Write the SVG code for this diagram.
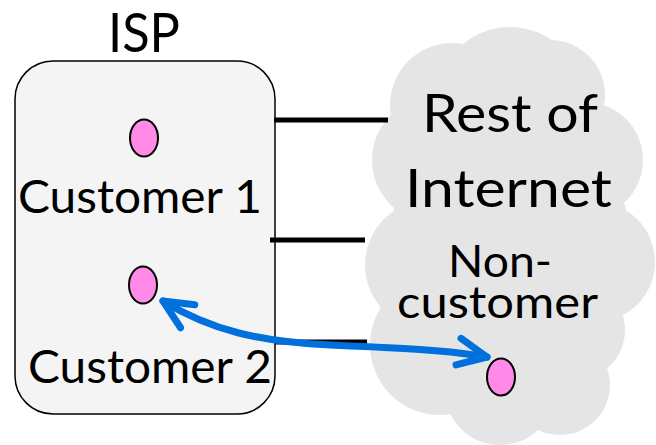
<svg xmlns="http://www.w3.org/2000/svg" width="656" height="445" viewBox="0 0 656 445">
<style>
.t{font-family:Lato,"Open Sans","Liberation Sans",sans-serif;fill:#000;text-anchor:middle}
.dot{fill:#ff8ae8;stroke:#000;stroke-width:2}
.link{stroke:#000;stroke-width:5;fill:none}
.cloud circle{fill:#e5e5e5}
</style>
<defs>
<marker id="chev" markerUnits="userSpaceOnUse" orient="auto-start-reverse" refX="0" refY="0" markerWidth="60" markerHeight="60" style="overflow:visible">
<path d="M-29,-13.5 L0,0 L-29,13.5" fill="none" stroke="#0070dd" stroke-width="7" stroke-linecap="round" stroke-linejoin="round"/>
</marker>
</defs>
<g id="internet">
<g class="cloud">
<circle cx="510" cy="240" r="120"/>
<circle cx="452" cy="105" r="62"/>
<circle cx="510" cy="100" r="73"/>
<circle cx="550" cy="95" r="55"/>
<circle cx="585" cy="160" r="58"/>
<circle cx="595" cy="262" r="60"/>
<circle cx="575" cy="330" r="50"/>
<circle cx="560" cy="385" r="50"/>
<circle cx="500" cy="390" r="55"/>
<circle cx="440" cy="345" r="70"/>
<circle cx="430" cy="265" r="65"/>
<circle cx="435" cy="160" r="63"/>
</g>
<text class="t" x="510" y="132" font-size="52" textLength="176" lengthAdjust="spacingAndGlyphs">Rest of</text>
<text class="t" x="508.5" y="207" font-size="52" textLength="207" lengthAdjust="spacingAndGlyphs">Internet</text>
</g>
<g id="isp">
<text class="t" x="144" y="52" font-size="55" textLength="72" lengthAdjust="spacingAndGlyphs">ISP</text>
<rect x="15" y="61" width="260" height="353" rx="38" ry="38" fill="#f4f4f4" stroke="#000" stroke-width="1.5"/>
</g>
<g id="customer1">
<ellipse class="dot" cx="144" cy="138" rx="14" ry="18.5"/>
<text class="t" x="140" y="213" font-size="46" textLength="244" lengthAdjust="spacingAndGlyphs">Customer 1</text>
</g>
<g id="customer2">
<ellipse class="dot" cx="143" cy="285" rx="14" ry="18.5"/>
<text class="t" x="150" y="383" font-size="46" textLength="244" lengthAdjust="spacingAndGlyphs">Customer 2</text>
</g>
<g id="noncustomer">
<text class="t" x="500" y="277" font-size="44" textLength="104" lengthAdjust="spacingAndGlyphs">Non-</text>
<text class="t" x="497.5" y="318" font-size="44" textLength="201" lengthAdjust="spacingAndGlyphs">customer</text>
<ellipse class="dot" cx="501" cy="377" rx="14" ry="18.5"/>
</g>
<g id="connectors">
<line class="link" x1="274" y1="120" x2="388" y2="120"/>
<line class="link" x1="270" y1="240" x2="365" y2="240"/>
<line class="link" x1="275" y1="342" x2="367" y2="342"/>
<path d="M163,301 C210,330 260,342 330,345 C400,348 450,350 487,357" fill="none" stroke="#0070dd" stroke-width="7" stroke-linecap="round" marker-start="url(#chev)" marker-end="url(#chev)"/>
</g>
</svg>
